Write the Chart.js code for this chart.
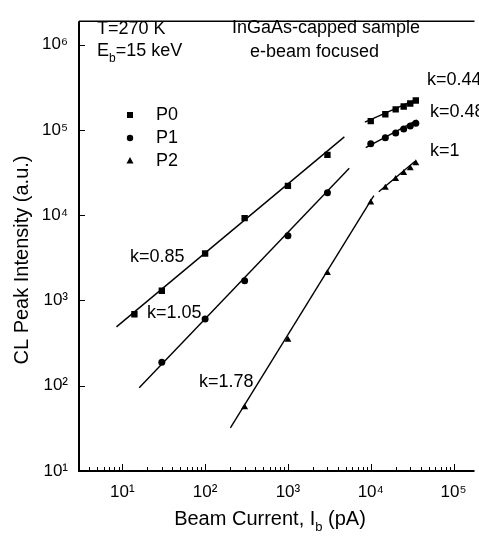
<!DOCTYPE html>
<html>
<head>
<meta charset="utf-8">
<script src="https://cdn.jsdelivr.net/npm/chart.js@4"></script>
<style>
  html, body { margin: 0; padding: 0; background: #fff; overflow: hidden; }
</style>
</head>
<body>
<canvas id="chart" width="479" height="536"></canvas>
<script>
// measured points, beam current in pA, CL intensity in a.u.
const p0Current = [14, 30, 100, 300, 1000, 3000, 10000, 15000, 20000, 25000, 30000, 35000];
const p0Intensity = [690, 1300, 3560, 9250, 22100, 51000, 126800, 152800, 174300, 188700, 204400, 221500];
const p1Current = [30, 100, 300, 1000, 3000, 10000, 15000, 20000, 25000, 30000, 35000];
const p1Intensity = [189, 605, 1700, 5740, 18360, 69000, 80900, 92400, 102600, 111100, 120300];
const p2Current = [300, 1000, 3000, 10000, 15000, 20000, 25000, 30000, 35000];
const p2Intensity = [56, 347, 2100, 14100, 21000, 26600, 31200, 35600, 40700];

// fitted power laws (end points of each drawn line)
const p0FitLowCurrent = [8.5, 4800];
const p0FitLowIntensity = [490, 83000];
const p1FitLowCurrent = [16, 5500];
const p1FitLowIntensity = [95, 35600];
const p2FitLowCurrent = [202, 10900];
const p2FitLowIntensity = [32, 17000];
const p0FitHighCurrent = [8500, 37300];
const p0FitHighIntensity = [123600, 233500];
const p1FitHighCurrent = [8700, 36300];
const p1FitHighIntensity = [62100, 130400];
const p2FitHighCurrent = [12500, 34300];
const p2FitHighIntensity = [18900, 42900];

const xTickValues = [10, 100, 1000, 10000, 100000];
const yTickValues = [10, 100, 1000, 10000, 100000, 1000000];
const seriesNames = ['P0', 'P1', 'P2'];
const slopeLabels = ['k=0.85', 'k=1.05', 'k=1.78', 'k=0.44', 'k=0.48', 'k=1'];

const FONT = '"Liberation Sans", Arial, sans-serif';
const SUP = { 0: '\u2070', 1: '\u00b9', 2: '\u00b2', 3: '\u00b3', 4: '\u2074', 5: '\u2075', 6: '\u2076' };

function pts(xs, ys) {
  return xs.map((v, i) => ({ x: v, y: ys[i] }));
}
function powLabel(v) {
  return '10' + SUP[Math.round(Math.log10(v))];
}

function fitSet(xs, ys) {
  return {
    data: pts(xs, ys), showLine: true, borderColor: '#000', borderWidth: 1.4,
    pointRadius: 0, fill: false
  };
}
function markSet(name, xs, ys, style, r) {
  return {
    label: name, data: pts(xs, ys), showLine: false, pointStyle: style,
    pointRadius: r, backgroundColor: '#000', borderColor: '#000', borderWidth: 0
  };
}

// draw text made of normal / subscript pieces
function drawParts(ctx, parts, x, y, size, align) {
  const subSize = Math.round(size * 0.65);
  let total = 0;
  parts.forEach(p => {
    ctx.font = (p[1] ? subSize : size) + 'px ' + FONT;
    total += ctx.measureText(p[0]).width;
  });
  let cx = align === 'center' ? x - total / 2 : x;
  ctx.textAlign = 'left';
  ctx.textBaseline = 'middle';
  parts.forEach(p => {
    ctx.font = (p[1] ? subSize : size) + 'px ' + FONT;
    ctx.fillText(p[0], cx, p[1] ? y + size * 0.4 : y);
    cx += ctx.measureText(p[0]).width;
  });
}

const overlay = {
  id: 'overlay',
  afterDraw(chart) {
    const { ctx, chartArea: a, scales: { x, y } } = chart;
    ctx.save();
    ctx.strokeStyle = '#000';
    ctx.fillStyle = '#000';

    // frame
    ctx.lineWidth = 2;
    ctx.beginPath();
    ctx.moveTo(a.left, a.top);
    ctx.lineTo(a.left, a.bottom);
    ctx.lineTo(a.right, a.bottom);
    ctx.stroke();
    ctx.lineWidth = 1.5;
    ctx.beginPath();
    ctx.moveTo(a.left, a.top);
    ctx.lineTo(a.right, a.top);
    ctx.stroke();

    // inward ticks
    ctx.lineWidth = 1;
    ctx.beginPath();
    for (let d = 0; d <= 5; d++) {
      for (let m = 1; m <= 9; m++) {
        const v = m * Math.pow(10, d);
        if (v < x.min || v > x.max) continue;
        const px = Math.round(x.getPixelForValue(v)) + 0.5;
        ctx.moveTo(px, a.bottom);
        ctx.lineTo(px, a.bottom - (m === 1 ? 7 : 4));
      }
    }
    yTickValues.forEach(v => {
      const py = Math.round(y.getPixelForValue(v)) + 0.5;
      ctx.moveTo(a.left, py);
      ctx.lineTo(a.left + 6, py);
    });
    ctx.stroke();

    // annotations
    const S = 18;
    drawParts(ctx, [['T=270 K']], 97, 29, S);
    drawParts(ctx, [['E'], ['b', 1], ['=15 keV']], 97, 51, S);
    drawParts(ctx, [['InGaAs-capped sample']], 232, 28, S);
    drawParts(ctx, [['e-beam focused']], 250, 52, S);

    // legend
    const lx = 130;
    const ly = [115, 138, 161];
    ctx.fillRect(lx - 3, ly[0] - 3, 6, 6);
    ctx.beginPath();
    ctx.arc(lx, ly[1], 3.2, 0, Math.PI * 2);
    ctx.fill();
    ctx.beginPath();
    ctx.moveTo(lx, ly[2] - 4);
    ctx.lineTo(lx + 3.5, ly[2] + 2.5);
    ctx.lineTo(lx - 3.5, ly[2] + 2.5);
    ctx.closePath();
    ctx.fill();
    seriesNames.forEach((n, i) => drawParts(ctx, [[n]], 156, ly[i], S));

    // slope labels
    const kPos = [[130, 257], [147, 313], [199, 382], [427, 80], [430, 112], [430, 151]];
    slopeLabels.forEach((t, i) => drawParts(ctx, [[t]], kPos[i][0], kPos[i][1], S));

    // axis titles
    drawParts(ctx, [['Beam Current, I'], ['b', 1], [' (pA)']], 270, 519, 20, 'center');
    ctx.translate(22, 260);
    ctx.rotate(-Math.PI / 2);
    drawParts(ctx, [['CL Peak Intensity (a.u.)']], 0, 0, 20, 'center');
    ctx.restore();
  }
};

new Chart(document.getElementById('chart'), {
  type: 'scatter',
  data: {
    datasets: [
      fitSet(p0FitLowCurrent, p0FitLowIntensity),
      fitSet(p1FitLowCurrent, p1FitLowIntensity),
      fitSet(p2FitLowCurrent, p2FitLowIntensity),
      fitSet(p0FitHighCurrent, p0FitHighIntensity),
      fitSet(p1FitHighCurrent, p1FitHighIntensity),
      fitSet(p2FitHighCurrent, p2FitHighIntensity),
      markSet('P0', p0Current, p0Intensity, 'rect', 4.5),
      markSet('P1', p1Current, p1Intensity, 'circle', 3.5),
      markSet('P2', p2Current, p2Intensity, 'triangle', 4)
    ]
  },
  options: {
    responsive: false,
    animation: false,
    layout: { padding: { top: 12, right: 0, left: 0, bottom: 0 } },
    plugins: { legend: { display: false }, tooltip: { enabled: false } },
    scales: {
      x: {
        type: 'logarithmic', min: 3, max: 179000,
        grid: { display: false, drawTicks: false },
        border: { display: false },
        afterBuildTicks: s => { s.ticks = xTickValues.map(v => ({ value: v })); },
        afterFit: s => { s.height = 65; },
        ticks: {
          callback: v => powLabel(v), autoSkip: false, maxRotation: 0,
          padding: 11, color: '#000', font: { family: FONT, size: 17 }
        }
      },
      y: {
        type: 'logarithmic', min: 10, max: 1888000,
        grid: { display: false, drawTicks: false },
        border: { display: false },
        afterBuildTicks: s => { s.ticks = yTickValues.map(v => ({ value: v })); },
        afterFit: s => { s.width = 79; },
        ticks: {
          callback: v => powLabel(v), autoSkip: false,
          padding: 11, color: '#000', font: { family: FONT, size: 17 }
        }
      }
    }
  },
  plugins: [overlay]
});
</script>
</body>
</html>
